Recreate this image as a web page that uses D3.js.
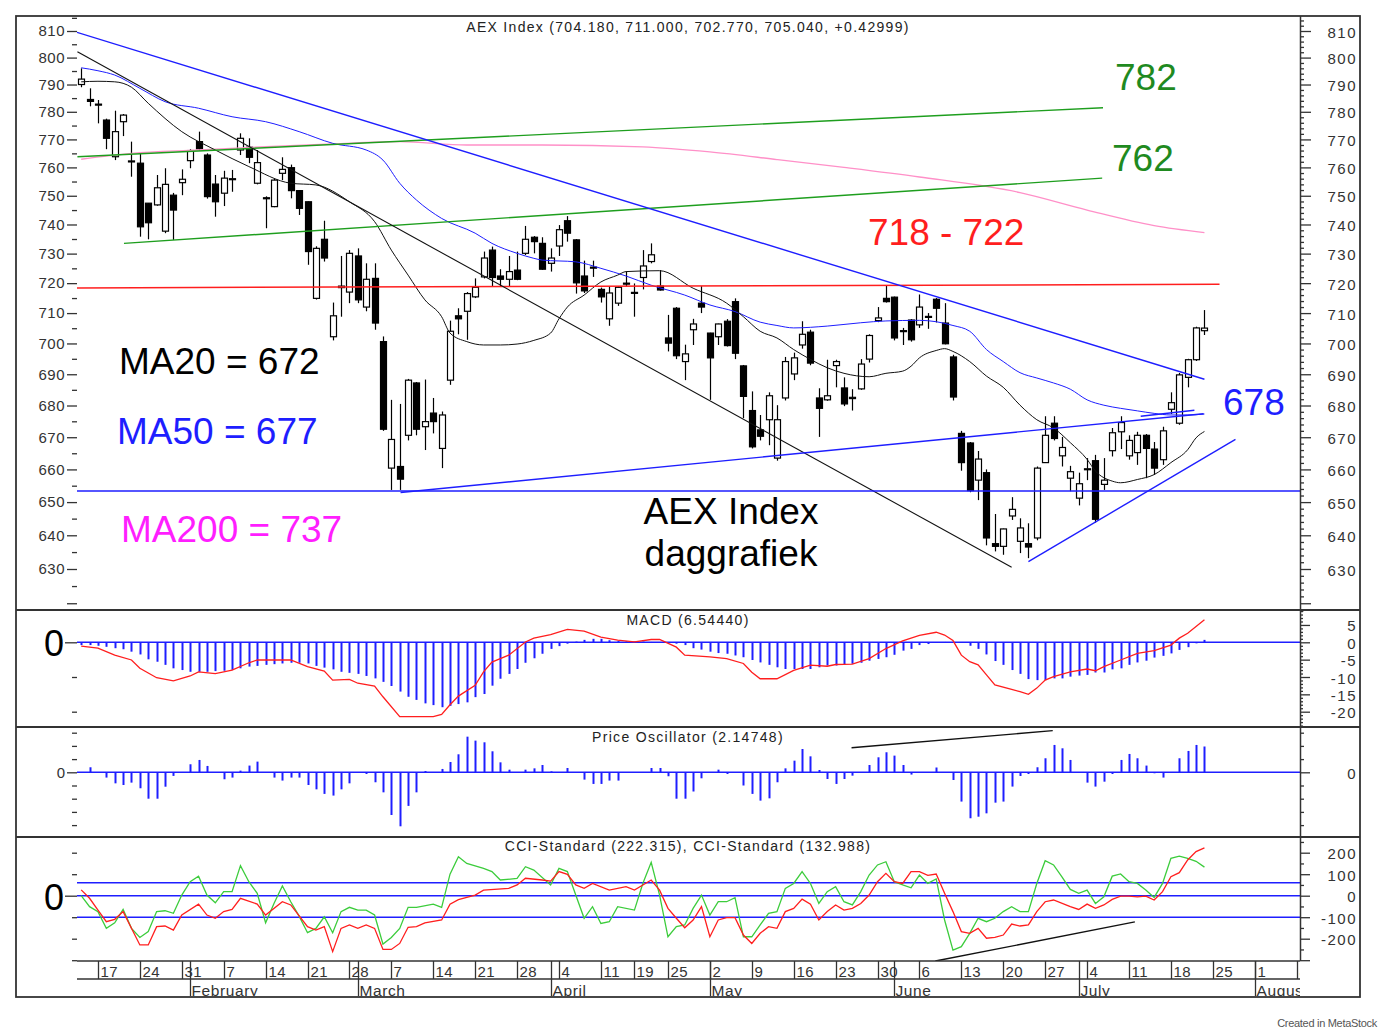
<!DOCTYPE html>
<html>
<head>
<meta charset="utf-8">
<script src="https://cdn.jsdelivr.net/npm/d3@7"></script>
<style>
  body { margin: 0; background: #fff; }
</style>
</head>
<body>
<div id="chart"></div>
<script>
// ---------- data (AEX daily, 13 Jan - 22 Jul 2022) ----------
// one row per trading day: [open, high, low, close]
const ohlc = [
  [790,796,789,792],[784.5,788.6,782,783.8],[782.8,784.3,775.8,782.5],[777,777.5,766.5,770.4],[763.8,780.4,762.6,772.8],
  [776.4,779.2,771.2,778.8],[762,769.2,756.7,762.3],[761.5,765,735.8,739.2],[747.4,747.4,734.9,740.6],[746.8,757.3,746.5,752.8],
  [737.7,759.7,737,754],[750.2,751,734.7,745],[754.6,759.3,750.2,755.8],[762.4,766.5,759.7,766],[769.2,772.8,766,766.6],
  [764.4,765,749,749.7],[754.1,757.3,742.7,747.9],[750.9,758.8,746.4,756.2],[755.8,759.1,751.4,756],[766.2,772.2,764.4,770.4],
  [767.2,770.4,761.5,763.6],[754.4,766.2,754,761.7],[749.3,749.8,738.7,749],[746.2,756,746,755.5],[757.9,763.6,755.5,759.3],
  [759.9,761,749.1,751.8],[751.8,752,743.3,745.6],[747.9,748,726.2,730.7],[714.9,732.5,714.5,731.8],[734.9,741.3,727.3,728.5],
  [702.2,713.5,701,709.1],[718.5,729.2,708.8,719],[717,731.2,713.3,730.1],[729.2,731.8,713.3,714.4],[712,726.7,710.6,721.3],
  [721.6,726.7,704.5,706.7],[700.6,702.3,672,672.5],[660.4,681.8,653.7,669.3],[660.9,680.5,653.7,657],[670.6,688.5,669,688.1],
  [687.2,687.5,670.6,672.5],[673.3,688.3,666,674.9],[677.6,682.4,671.2,674.9],[666.5,678.1,660.4,677],[688.1,707.5,686.6,704],
  [709.1,711.6,703,708.1],[710.6,717,701.2,716.5],[715.4,721.6,715,718.6],[722.1,730.7,721.6,728.5],[731.2,732.4,719,721.9],
  [722.4,724.7,719,721.3],[721.3,729.2,719,723.9],[724.4,730.7,721,721.3],[730.1,739.5,729.5,734.9],[735.6,736,730.1,734.1],
  [733.5,735.6,724.5,724.7],[726.7,731.8,723.9,728.5],[732.6,739.8,729.2,738.2],[741.3,742.9,734.1,737],[734.7,735,716.5,720.1],
  [722.4,727.6,716.7,717.4],[725.4,727.6,722.1,725.1],[717.9,718.5,713.5,715.4],[708.1,719,705.8,716.7],[713.3,719,712.4,718.6],
  [720,723.9,718.9,719.8],[716.9,719.9,708.8,716.6],[721.9,731.2,717.9,725.8],[727.3,733.5,726.7,729.6],[719,724.4,717.5,717.7],
  [701.8,709.4,697.4,700.1],[711.6,712,694.9,696],[694.1,699.6,688.1,696.6],[704.5,708.1,699.5,706.4],[713.3,719,710,712],
  [703.4,703.5,681.8,695.3],[702.2,706.5,699.5,706.4],[707.3,708,699,699.3],[713.8,714.9,694.9,696.8],[692.7,693,676,682.9],
  [678.4,684.5,666.5,667],[672.3,677,669,670.3],[675.5,684.2,667.5,683.1],[663.5,680.1,662.7,675.5],[682.4,695.6,681.6,694.1],
  [690.1,697,688.1,695.3],[699.5,707.3,698.3,703],[703.7,704.5,692.9,693.6],[682.4,685.5,670.1,679.1],[681.8,694.7,681.5,683.1],
  [692.8,694.7,685.8,694.1],[685.6,689,679.8,680.5],[682.2,685.2,678.4,682.6],[685.3,694.9,685,693.3],[694.9,703,693.8,702.6],
  [707.5,712,707,708.4],[714.9,719.3,713.5,713.8],[715.3,715.5,701,701.8],[704,705.1,699.5,704.2],[707.7,708,700.6,701.2],
  [706.1,716.2,705.1,712],[708.9,710,704.8,708.7],[714.6,715,706.9,711.6],[706.7,713.3,699.7,699.9],[695.6,696.3,681.6,682.7],
  [671.2,672,659.6,662.1],[668.2,668.5,653,653.5],[656.7,665.7,650.6,663.2],[659,660,637,639.2],[637.5,646.4,635.2,636.7],
  [636.7,642,634.2,641.9],[645.8,651.5,644.6,647.8],[638.2,645.1,634.7,642.2],[637.5,643.6,633.2,636.5],[639.2,660.9,638.5,660.4],
  [662.1,676.6,662,670.6],[674.4,676.6,669,669.6],[664.2,670.1,660.9,666.8],[657.3,661.1,653.3,659.3],[651.2,659,649,655.6],
  [660,663.5,656.7,660.2],[662.7,664.5,643.8,644.8],[655.4,663.5,653.7,656.7],[665.8,672.9,664,671.4],[671.7,676.6,666.3,674.6],
  [664.2,670.6,663,669],[665.2,671.7,661.4,670.6],[670.6,671,657.3,666.5],[666.3,668.5,658.3,660.4],[663,673.3,661.4,672],
  [678.8,684.2,677.3,680.9],[674.4,690.4,673.9,689.8],[689,695,685.8,694.7],[694.7,705.5,694.3,705.1],[704.18,711.0,702.77,705.04]
];

// moving averages, [trading day, value]
const ma20 = [[0,791],[2,791.2],[4,791],[6,789],[8,783.1],[12,772.8],[16,766.2],[20,760.3],[25,754.4],[28,753.8],[32,747.9],
  [35,741],[37,731.2],[39,722.7],[41,714.4],[43,708.8],[44,703.4],[46,700.6],[48,699.5],[50,699.5],[52,699.8],[54,701],
  [56,703.4],[57,708.1],[58,712],[60,716],[62,720.4],[64,722.7],[65,723.9],[69,724.2],[73,718.3],[77,713.3],[79,708.8],
  [81,704],[83,701.8],[85,698],[87,694.8],[89,692.1],[91,690.3],[94,689.2],[96,690.3],[98,691],[99,692.6],[100,695.3],
  [102,697.7],[103,698.3],[104,697.4],[106,694.1],[108,689.4],[110,685.8],[112,680.1],[114,675.5],[116,672.9],[118,668.3],
  [120,663.1],[121,659.5],[123,656.4],[124,655.9],[126,656.9],[128,658.4],[130,662.1],[132,666.1],[133,669.8],[134,671.8]];
const ma50 = [[0,796.2],[2,795.1],[4,793.5],[7,788.6],[10,783.7],[14,781.3],[18,778.2],[22,776.4],[26,772.8],[30,768.6],
  [34,766.2],[36,762.6],[38,754.4],[40,748.5],[43,742.1],[47,737],[49,733.5],[52,730.1],[54,728.4],[55,727.8],[59,727.2],
  [62,725],[65,722.4],[68,719.3],[72,716],[75,712.7],[78,710.5],[81,707],[83,705.9],[85,705.1],[89,705.7],[93,706.8],
  [96,707.4],[100,707.6],[104,705.9],[106,704],[108,698],[110,694.1],[112,690.5],[114,688.8],[116,687.2],[118,685.2],
  [120,681.8],[122,680.1],[124,679.1],[126,678.3],[128,677.5],[130,677],[132,677],[134,677.3]];
const ma200 = [[0,762.9],[6,765],[14,766.2],[22,767.4],[30,768.4],[38,769.2],[46,768],[55,768],[67,767.3],[75,765.5],
  [83,762.8],[91,760],[100,756.6],[112,751.1],[120,745],[128,739.6],[134,737.2]];

// drawn trend lines, [[day, value], [day, value]]
const blueLines = [
  [[-0.5,809.5],[134,688.4]],
  [[-0.5,653.4],[145.4,653.4]],
  [[38.1,652.9],[133.9,677.4]],
  [[126.4,676.6],[132.8,678.5]],
  [[113,632.2],[137.7,669.3]]
];
const blackLines = [[[-0.45,802.2],[111,630.5]]];
const greenLines = [[[-0.45,763.8],[121.9,781.5]], [[5.1,733.5],[121.8,756.2]]];
const redLines = [[[-0.5,718.4],[135.8,719.6]]];

// MACD: red line [day, value], blue signal histogram per day
const macdLine = [[0,-1.1],[2,-1.7],[4,-3.7],[6,-5.1],[7,-7.5],[9,-10.2],[11,-11.1],[13,-9.7],[14,-8.5],[16,-9.0],[18,-8.0],
  [20,-5.9],[21,-5.1],[25,-5.1],[27,-7.0],[29,-8.3],[30,-10.9],[32,-10.7],[33,-11.8],[35,-12.6],[36,-15.7],[38,-21.4],
  [42,-21.4],[43,-20.8],[44,-18.0],[45,-15.5],[47,-12.4],[48,-8.5],[49,-5.7],[51,-3.7],[53,0.1],[54,1.2],[56,2.2],
  [58,3.7],[60,3.2],[62,1.5],[64,0.6],[66,0.1],[68,0.8],[69,0.8],[71,-1.4],[72,-3.7],[75,-4.2],[77,-4.7],[79,-6.1],
  [80,-8.6],[81,-10.5],[83,-10.5],[85,-8.1],[87,-6.6],[89,-6.9],[90,-6.4],[92,-6.3],[94,-4.7],[96,-1.8],[98,0.4],
  [100,2.0],[102,2.9],[103,2.1],[104,0.5],[105,-3.7],[106,-5.6],[107,-6.5],[108,-9.4],[109,-12.3],[111,-13.6],[112,-14.2],
  [113,-15.0],[114,-13.2],[115,-10.9],[116,-9.9],[118,-8.5],[120,-7.7],[121,-8.2],[122,-7.0],[124,-5.1],[126,-3.2],
  [128,-2.4],[130,-0.8],[131,1.2],[132,2.6],[134,6.5]];
const macdSignal = [
  -0.8,-0.8,-1.0,-1.3,-1.7,-2.0,-2.7,-3.5,-4.9,-5.6, -6.5,-7.5,-8.0,-8.5,-8.5,-8.5,-8.3,-8.2,-8.0,-7.5,
  -7.0,-6.8,-6.5,-6.3,-6.1,-5.9,-5.9,-6.1,-6.8,-7.3, -7.8,-8.5,-8.8,-9.1,-9.7,-10.4,-11.4,-12.6,-14.2,-15.7,
  -16.6,-17.6,-18.1,-18.7,-18.3,-17.8,-17.3,-15.8,-14.9,-12.5, -10.5,-9.1,-7.7,-5.9,-4.6,-3.3,-1.9,-1.1,-0.4,0.2,
  0.7,1.0,1.0,0.6,0.4,0.3,0.2,0.2,0.1,0, -0.2,-0.4,-0.8,-1.7,-2.1,-2.7,-3.1,-3.3,-3.8,-4.3,
  -5.1,-5.8,-6.5,-7.2,-7.7,-7.7,-7.7,-7.7,-7.2,-6.7, -6.7,-6.5,-6.2,-5.9,-5.3,-4.8,-4.3,-3.6,-2.4,-1.9,
  -0.8,-0.5,-0.2,0.1,0.1,-0.1,-1.0,-1.9,-3.5,-5.4, -6.5,-8.0,-9.1,-10.6,-10.9,-10.9,-10.4,-10.4,-9.9,-9.6,
  -9.4,-8.7,-8.7,-7.8,-7.5,-6.5,-5.8,-5.3,-4.4,-3.9, -3.2,-2.2,-1.4,-0.3,0.7];

// Price Oscillator per day
const priceOsc = [
  0,0.42,0,-0.44,-0.92,-1.06,-0.86,-1.33,-2.2,-2.2, -1.2,-0.3,0,0.67,1.03,0.53,0,-0.58,-0.44,0.14,
  0.56,0.89,0,-0.44,-0.69,-0.44,-0.44,-1.06,-1.42,-1.8, -1.94,-1.42,-0.92,0,-0.14,-0.83,-1.67,-3.56,-4.5,-2.8,
  -1.67,0.11,0,0.28,0.86,1.5,2.97,2.64,2.5,1.75, 0.83,0.22,0,0.22,0.33,0.61,0.08,0,0.36,0,
  -0.61,-0.97,-0.97,-0.69,-0.69,0,0,0,0.36,0.36, -0.33,-2.2,-2.2,-1.6,-0.5,0,0.22,-0.14,0,-1.1,
  -1.8,-2.36,-2.17,-0.83,0.33,0.97,1.94,1.33,0.19,-0.56, -0.97,-0.56,-0.28,0,0.61,1.25,1.67,1.39,0.61,-0.19,
  0,0,0.4,0,-0.64,-2.44,-3.83,-3.7,-3.42,-2.53, -2.44,-1.19,-0.31,-0.14,0.42,1.17,2.28,2.0,1.03,0,
  -0.86,-1.19,-0.78,-0.14,1.03,1.53,1.17,0.56,-0.08,-0.44, 0,1.17,1.78,2.28,2.15];
const poTrend = [[91.9,2.05],[115.9,3.47]];

// CCI, [day, value]
const cciRed = [[0,27],[1,-12],[2,-67],[3,-121],[4,-110],[5,-74],[7,-229],[8,-229],[9,-144],[10,-141],[11,-160],[12,-90],
  [14,-39],[15,-90],[16,-105],[17,-74],[18,-64],[19,-12],[21,-39],[22,-90],[24,-28],[25,-43],[27,-144],[28,-160],[29,-144],
  [30,-260],[31,-152],[32,-136],[33,-152],[34,-136],[35,-152],[36,-250],[37,-250],[38,-222],[39,-147],[40,-144],[41,-126],
  [43,-113],[44,-40],[45,-18],[47,3],[48,26],[51,34],[52,50],[53,81],[55,73],[56,68],[57,112],[58,99],[59,50],[60,34],
  [61,57],[63,26],[65,42],[66,26],[68,73],[69,26],[70,-59],[71,-105],[72,-149],[73,-113],[74,-51],[75,-191],[76,-113],
  [77,-102],[78,-102],[79,-183],[80,-222],[81,-175],[82,-144],[83,-152],[84,-74],[85,-59],[86,-16],[87,-40],[88,-113],
  [89,-74],[90,-43],[91,-67],[92,-59],[93,-36],[94,3],[95,65],[96,104],[97,65],[98,57],[99,112],[100,112],[101,95],
  [102,101],[103,11],[104,-74],[105,-167],[106,-175],[107,-152],[108,-198],[109,-194],[110,-183],[111,-132],[112,-141],
  [113,-136],[114,-74],[115,-28],[116,-20],[118,-51],[119,-64],[120,-39],[121,-59],[122,-43],[123,-17],[124,-2],[125,-2],
  [126,-5],[127,-2],[128,-20],[129,19],[130,88],[131,107],[132,166],[133,205],[134,222]];
const cciGreen = [[0,0],[1,-51],[2,-74],[3,-152],[4,-126],[5,-64],[6,-152],[7,-194],[8,-167],[9,-74],[10,-70],[11,-82],
  [12,3],[13,65],[14,91],[15,3],[16,-33],[17,19],[18,19],[19,140],[20,65],[21,11],[22,-126],[23,-36],[24,45],[25,-28],
  [26,-95],[27,-172],[28,-152],[29,-98],[30,-172],[31,-74],[32,-54],[33,-67],[34,-67],[35,-90],[36,-225],[37,-194],
  [38,-152],[39,-54],[40,-54],[42,-39],[43,-54],[44,100],[45,181],[46,150],[48,127],[49,112],[50,73],[52,80],[53,135],
  [54,119],[56,50],[57,127],[58,112],[59,3],[60,-105],[61,-51],[62,-129],[63,-121],[64,-51],[66,-67],[67,57],[68,155],
  [69,3],[70,-191],[71,-144],[72,-136],[73,-59],[74,3],[75,-90],[76,-28],[77,-28],[78,-9],[79,-191],[80,-191],[81,-136],
  [82,-82],[83,-74],[84,34],[85,57],[86,112],[87,57],[88,-36],[89,19],[90,42],[91,-28],[92,-43],[93,19],[94,96],[95,143],
  [96,158],[97,65],[98,50],[99,37],[100,96],[101,57],[102,78],[103,-113],[104,-253],[105,-237],[106,-175],[107,-105],
  [108,-121],[109,-105],[110,-74],[111,-51],[112,-74],[113,-74],[114,57],[115,163],[116,143],[117,88],[118,29],[119,11],
  [120,26],[121,-36],[122,-5],[123,91],[124,101],[125,65],[126,57],[127,26],[128,-8],[129,57],[130,174],[131,184],
  [132,174],[133,160],[134,133]];
const cciLevels = [60, 0, -100];
const cciTrend = [[101.9,-304],[125.7,-122]];

// date axis: [trading day, label]
const weekTicks = [[2,"17"],[7,"24"],[12,"31"],[17,"7"],[22,"14"],[27,"21"],[32,"28"],[37,"7"],[42,"14"],[47,"21"],
  [52,"28"],[57,"4"],[62,"11"],[66,"19"],[70,"25"],[75,"2"],[80,"9"],[85,"16"],[90,"23"],[95,"30"],[100,"6"],[105,"13"],
  [110,"20"],[115,"27"],[120,"4"],[125,"11"],[130,"18"],[135,"25"],[140,"1"],[145,"8"]];
const monthTicks = [[13,"February"],[33,"March"],[56,"April"],[75,"May"],[97,"June"],[119,"July"],[140,"August"]];

const mainTitle = "AEX Index (704.180, 711.000, 702.770, 705.040, +0.42999)";

// ---------- drawing ----------
const F = '"Liberation Sans", Arial, sans-serif';
const BLUE = "#1e1eff", RED = "#ff1e1e", GREEN = "#1e9e1e", GREEN_TXT = "#1f8a1f",
      PINK = "#ff90c8", MAGENTA = "#ff1eff", CCI_GREEN = "#3ccc3c", INK = "#333";
const BIG = 37;

const L = 77, R = 1300;
const svg = d3.select("#chart").append("svg")
  .attr("width", 1379).attr("height", 1034)
  .style("background", "#fff");

const x = d3.scaleLinear().domain([-0.5, 145.4]).range([L, R]);
const yMain = d3.scaleLog().domain([630, 810]).range([569, 31]);
const yMacd = d3.scaleLinear().domain([0, -20]).range([642.3, 711.7]);
const yPo = d3.scaleLinear().domain([0, 1]).range([772.3, 760.3]);
const yCci = d3.scaleLinear().domain([0, 100]).range([895.7, 874.2]);

const defs = svg.append("defs");
function clip(id, x0, y0, x1, y1) {
  defs.append("clipPath").attr("id", id).append("rect")
    .attr("x", x0).attr("y", y0).attr("width", x1 - x0).attr("height", y1 - y0);
  return "url(#" + id + ")";
}
const cx = i => Math.round(x(i)) + 0.5;

// ---- main panel ----
const gMain = svg.append("g").attr("clip-path", clip("cMain", L, 16, R, 610));

gMain.append("g").selectAll("line").data(ohlc).join("line")
  .attr("x1", (d, i) => cx(i)).attr("x2", (d, i) => cx(i))
  .attr("y1", d => yMain(d[1])).attr("y2", d => yMain(d[2]))
  .attr("stroke", "#000").attr("stroke-width", 1.2);

gMain.append("g").selectAll("rect").data(ohlc).join("rect")
  .attr("x", (d, i) => cx(i) - 3).attr("width", 6)
  .attr("y", d => yMain(Math.max(d[0], d[3])))
  .attr("height", d => Math.max(1, Math.abs(yMain(d[0]) - yMain(d[3]))))
  .attr("fill", d => d[3] >= d[0] ? "#fff" : "#000")
  .attr("stroke", "#000").attr("stroke-width", 1.2);

const maLine = d3.line().x(d => x(d[0])).y(d => yMain(d[1])).curve(d3.curveMonotoneX);
gMain.append("path").datum(ma200).attr("d", maLine).attr("fill", "none").attr("stroke", PINK).attr("stroke-width", 1.3);
gMain.append("path").datum(ma50).attr("d", maLine).attr("fill", "none").attr("stroke", BLUE).attr("stroke-width", 1);
gMain.append("path").datum(ma20).attr("d", maLine).attr("fill", "none").attr("stroke", "#111").attr("stroke-width", 1);

const segLine = d3.line().x(d => x(d[0])).y(d => yMain(d[1]));
function drawSegs(list, color, w) {
  gMain.append("g").selectAll("path").data(list).join("path")
    .attr("d", segLine).attr("fill", "none").attr("stroke", color).attr("stroke-width", w);
}
drawSegs(greenLines, GREEN, 1.4);
drawSegs(redLines, RED, 1.5);
drawSegs(blackLines, "#111", 1.1);
drawSegs(blueLines, BLUE, 1.4);

// annotations
function label(t, px, py, color, size, anchor) {
  svg.append("text").attr("x", px).attr("y", py).attr("fill", color)
    .attr("font-family", F).attr("font-size", size)
    .attr("text-anchor", anchor || "start").text(t);
}
label("782", 1115, 90, GREEN_TXT, BIG);
label("762", 1112, 171, GREEN_TXT, BIG);
label("718 - 722", 868, 245, RED, BIG);
label("678", 1223, 415, BLUE, BIG);
label("MA20 = 672", 119, 374, "#000", BIG);
label("MA50 = 677", 117, 444, BLUE, BIG);
label("MA200 = 737", 121, 542, MAGENTA, BIG);
label("AEX Index", 731, 524, "#000", BIG, "middle");
label("daggrafiek", 731, 566, "#000", BIG, "middle");

// ---- MACD panel ----
const gMacd = svg.append("g").attr("clip-path", clip("cMacd", L, 610, R, 727));
gMacd.append("line").attr("x1", L).attr("x2", R).attr("y1", yMacd(0)).attr("y2", yMacd(0))
  .attr("stroke", BLUE).attr("stroke-width", 1.5);
gMacd.append("g").selectAll("line").data(macdSignal).join("line")
  .attr("x1", (d, i) => cx(i)).attr("x2", (d, i) => cx(i))
  .attr("y1", yMacd(0)).attr("y2", d => yMacd(d))
  .attr("stroke", BLUE).attr("stroke-width", 2);
gMacd.append("path").datum(macdLine)
  .attr("d", d3.line().x(d => x(d[0])).y(d => yMacd(d[1])))
  .attr("fill", "none").attr("stroke", RED).attr("stroke-width", 1.3);

// ---- Price oscillator panel ----
const gPo = svg.append("g").attr("clip-path", clip("cPo", L, 727, R, 837));
gPo.append("line").attr("x1", L).attr("x2", R).attr("y1", yPo(0)).attr("y2", yPo(0))
  .attr("stroke", BLUE).attr("stroke-width", 1.5);
gPo.append("g").selectAll("line").data(priceOsc).join("line")
  .attr("x1", (d, i) => cx(i)).attr("x2", (d, i) => cx(i))
  .attr("y1", yPo(0)).attr("y2", d => yPo(d))
  .attr("stroke", BLUE).attr("stroke-width", 2);
gPo.append("path").datum(poTrend)
  .attr("d", d3.line().x(d => x(d[0])).y(d => yPo(d[1])))
  .attr("fill", "none").attr("stroke", "#111").attr("stroke-width", 1.4);

// ---- CCI panel ----
const gCci = svg.append("g").attr("clip-path", clip("cCci", L, 837, R, 961));
gCci.append("g").selectAll("line").data(cciLevels).join("line")
  .attr("x1", L).attr("x2", R).attr("y1", d => yCci(d)).attr("y2", d => yCci(d))
  .attr("stroke", BLUE).attr("stroke-width", 1.5);
const cciPath = d3.line().x(d => x(d[0])).y(d => yCci(d[1]));
gCci.append("path").datum(cciGreen).attr("d", cciPath).attr("fill", "none").attr("stroke", CCI_GREEN).attr("stroke-width", 1.3);
gCci.append("path").datum(cciRed).attr("d", cciPath).attr("fill", "none").attr("stroke", RED).attr("stroke-width", 1.3);
gCci.append("path").datum(cciTrend).attr("d", cciPath).attr("fill", "none").attr("stroke", "#111").attr("stroke-width", 1.4);

// ---------- axes ----------
function styleAxis(g, size) {
  g.attr("font-family", F).attr("font-size", size);
  g.select(".domain").remove();
  g.selectAll(".tick line").attr("stroke", INK).attr("stroke-width", 1.3);
  g.selectAll(".tick text").attr("fill", INK);
  return g;
}
function leftAxis(scale, values, size, fmt) {
  return styleAxis(svg.append("g").attr("transform", "translate(" + L + ",0)")
    .call(d3.axisLeft(scale).tickValues(values).tickSize(size).tickPadding(2).tickFormat(fmt || (() => ""))), 15);
}
function rightAxis(scale, values, size, fmt) {
  const g = styleAxis(svg.append("g").attr("transform", "translate(" + R + ",0)")
    .call(d3.axisRight(scale).tickValues(values).tickSize(size).tickFormat(fmt || (() => ""))), 15);
  g.selectAll(".tick text").attr("x", 57).attr("text-anchor", "end").attr("dy", "0.4em")
    .style("letter-spacing", "1.5px");
  return g;
}

// main
leftAxis(yMain, d3.range(620, 811, 10), 10, v => v >= 630 ? v : "").selectAll("text").style("letter-spacing", "0.5px");
leftAxis(yMain, d3.range(625, 816, 10), 5);
rightAxis(yMain, d3.range(620, 811, 10), 11, v => v >= 630 ? v : "");
rightAxis(yMain, d3.range(618, 816, 2).filter(v => v % 10 !== 0), 4);

// MACD
leftAxis(yMacd, [0], 12);
leftAxis(yMacd, [-10, -20], 5);
rightAxis(yMacd, d3.range(-24, 10, 1).filter(v => v % 5 !== 0), 3);
rightAxis(yMacd, [5, 0, -5, -10, -15, -20], 10, v => v);
label("0", 64, yMacd(0) + 14, "#000", 36, "end");

// Price oscillator
const poTicks = [3.3, 2.2, 1.1, -1.1, -2.2, -3.3, -4.4];
leftAxis(yPo, poTicks, 5);
leftAxis(yPo, [0], 10, () => "0");
rightAxis(yPo, poTicks, 4);
rightAxis(yPo, [0], 10, () => "0");

// CCI
leftAxis(yCci, [200, 100, -100, -200, -300], 5);
leftAxis(yCci, [0], 12);
label("0", 64, yCci(0) + 14, "#000", 36, "end");
rightAxis(yCci, [250, 150, 50, -50, -150, -250], 4);
rightAxis(yCci, [200, 100, 0, -100, -200, -300], 10, v => v === -300 ? "" : v);

// right axis line
svg.append("line").attr("x1", R + 0.5).attr("x2", R + 0.5).attr("y1", 16).attr("y2", 961)
  .attr("stroke", INK).attr("stroke-width", 1.5);

// date axis
const gDate = svg.append("g").attr("clip-path", clip("cDate", L, 958, R, 996))
  .attr("font-family", F).attr("fill", INK);
gDate.append("line").attr("x1", L).attr("x2", R).attr("y1", 961).attr("y2", 961).attr("stroke", INK).attr("stroke-width", 1.5);
gDate.append("line").attr("x1", L).attr("x2", R).attr("y1", 979).attr("y2", 979).attr("stroke", INK).attr("stroke-width", 1.3);
gDate.selectAll(".wk").data(weekTicks).join("line").attr("class", "wk")
  .attr("x1", d => cx(d[0])).attr("x2", d => cx(d[0])).attr("y1", 961).attr("y2", 979)
  .attr("stroke", INK).attr("stroke-width", 1.3);
gDate.selectAll(".wkt").data(weekTicks).join("text").attr("class", "wkt")
  .attr("x", d => cx(d[0]) + 2).attr("y", 977).attr("font-size", 15)
  .style("letter-spacing", "0.5px").text(d => d[1]);
gDate.selectAll(".mo").data(monthTicks).join("line").attr("class", "mo")
  .attr("x1", d => cx(d[0])).attr("x2", d => cx(d[0])).attr("y1", 961).attr("y2", 997)
  .attr("stroke", INK).attr("stroke-width", 1.3);
gDate.selectAll(".mot").data(monthTicks).join("text").attr("class", "mot")
  .attr("x", d => cx(d[0]) + 1).attr("y", 996).attr("font-size", 15.5)
  .style("letter-spacing", "0.6px").text(d => d[1]);

// panel separators and frame
svg.append("g").selectAll("line").data([610, 727, 837]).join("line")
  .attr("x1", 16).attr("x2", 1360).attr("y1", d => d).attr("y2", d => d)
  .attr("stroke", INK).attr("stroke-width", 2);
svg.append("rect").attr("x", 16).attr("y", 16).attr("width", 1344).attr("height", 981)
  .attr("fill", "none").attr("stroke", INK).attr("stroke-width", 1.8);

// titles
function title(t, py) {
  svg.append("text").attr("x", 688).attr("y", py).attr("text-anchor", "middle")
    .attr("font-family", F).attr("font-size", 14).attr("fill", "#222")
    .style("letter-spacing", "1.3px").text(t);
}
title(mainTitle, 32);
title("MACD (6.54440)", 625);
title("Price Oscillator (2.14748)", 742);
title("CCI-Standard (222.315), CCI-Standard (132.988)", 851);

svg.append("text").attr("x", 1377).attr("y", 1027).attr("text-anchor", "end")
  .attr("font-family", F).attr("font-size", 11).attr("fill", "#555")
  .style("letter-spacing", "-0.3px").text("Created in MetaStock");
</script>
</body>
</html>
